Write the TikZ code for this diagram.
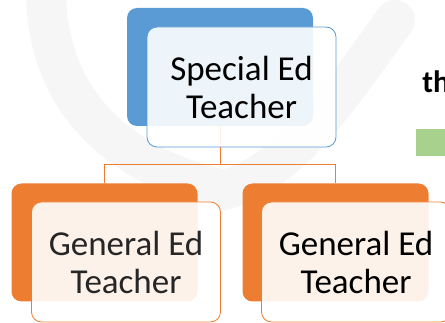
\documentclass[tikz,border=0pt]{standalone}
\usepackage{xcolor}
\usepackage{tikz}
\usepackage{fontspec}
\setmainfont{Carlito}
\usetikzlibrary{shapes,arrows,positioning,calc}

\definecolor{edblue}{HTML}{5B9BD5}
\definecolor{edorange}{HTML}{ED7D31}
\definecolor{edgreen}{HTML}{A9D18E}
\definecolor{wmark}{HTML}{F6F6F6}

\begin{document}
\begin{tikzpicture}[x=1pt, y=-1pt, thick,
    backbox/.style={rectangle, rounded corners=10pt, minimum width=186pt, minimum height=118pt, inner sep=0pt},
    frontbox/.style={rectangle, rounded corners=10pt, draw=#1, line width=0.8pt, fill=white, fill opacity=0.9, text opacity=1,
                     minimum width=189pt, minimum height=120pt, inner sep=0pt, align=center,
                     font=\fontsize{35}{38}\selectfont},
    link/.style={draw=edorange, line width=0.8pt}]
    \useasboundingbox (0,0) rectangle (445,323);

    % faint background swoosh
    \draw[wmark, line width=40pt, line cap=round] (47,-30) .. controls (35,120) and (150,175) .. (225,190)
        .. controls (290,170) and (330,110) .. (395,20);

    % back plates
    \node[backbox, fill=edblue] (spedback) at (220,67) {};
    \node[backbox, fill=edorange] (genleftback) at (104.5,242.5) {};
    \node[backbox, fill=edorange] (genrightback) at (335.5,242.5) {};

    % connectors
    \coordinate (split) at (220,164);
    \draw[link] (spedback.south) -- (split) -| (genleftback.north);
    \draw[link] (split) -| (genrightback.north);

    % front cards
    \node[frontbox=edblue, text=black] (sped) at (241.5,87) {Special Ed\\Teacher};
    \node[frontbox=edorange, text=black!85] (genleft) at (126,262) {General Ed\\Teacher};
    \node[frontbox=edorange, text=black] (genright) at (356,262) {General Ed\\Teacher};

    % cut-off title and bar on the right
    \node[anchor=base west, inner sep=0pt, font=\bfseries\fontsize{31}{34}\selectfont] (title) at (422,93) {th};
    \node[rectangle, fill=edgreen, minimum width=34pt, minimum height=27pt, inner sep=0pt, anchor=north west] (bar) at (416,129) {};
\end{tikzpicture}
\end{document}
